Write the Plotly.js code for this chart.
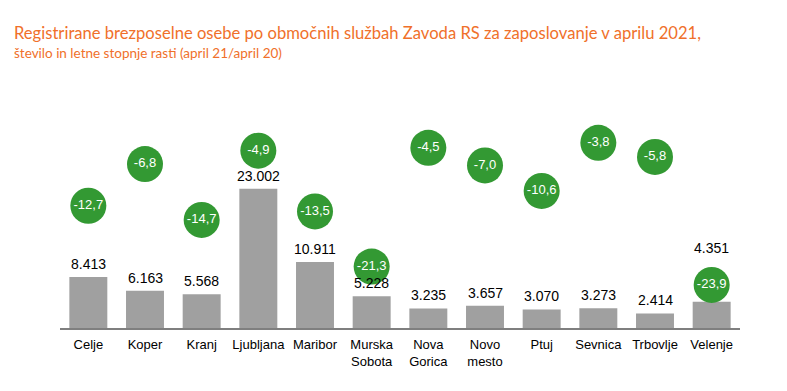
<!DOCTYPE html>
<html>
<head>
<meta charset="utf-8">
<script src="https://cdn.plot.ly/plotly-3.0.1.min.js"></script>
<style>html,body{margin:0;padding:0;background:#fff;}#chart{width:787px;height:391px;}</style>
</head>
<body>
<div id="chart"></div>
<script>
const categories = ["Celje", "Koper", "Kranj", "Ljubljana", "Maribor", "Murska<br>Sobota", "Nova<br>Gorica", "Novo<br>mesto", "Ptuj", "Sevnica", "Trbovlje", "Velenje"];
const unemployed = [8413, 6163, 5568, 23002, 10911, 5228, 3235, 3657, 3070, 3273, 2414, 4351];
const growth = [-12.7, -6.8, -14.7, -4.9, -13.5, -21.3, -4.5, -7.0, -10.6, -3.8, -5.8, -23.9];

const fmtInt = v => String(v).replace(/\B(?=(\d{3})+(?!\d))/g, ".");
const fmtDec = v => v.toFixed(1).replace(".", ",");

// extra upward shift for labels that would be covered by a circle
const labelExtraShift = {"Velenje": 41};

const bars = {
  type: "bar", x: categories, y: unemployed,
  marker: {color: "#A0A0A0"},
  hoverinfo: "skip", cliponaxis: false
};
const circles = {
  type: "scatter", mode: "markers+text", x: categories, y: growth, yaxis: "y2",
  marker: {color: "#339933", size: 36, line: {width: 0}},
  text: growth.map(fmtDec), textposition: "middle center",
  textfont: {family: "Liberation Sans, Arial, sans-serif", size: 13, color: "#ffffff"},
  hoverinfo: "skip", cliponaxis: false
};

const annotations = categories.map((c, i) => ({
  x: c, y: unemployed[i], xref: "x", yref: "y",
  text: fmtInt(unemployed[i]), showarrow: false,
  yanchor: "bottom", yshift: 3 + (labelExtraShift[c] || 0),
  font: {family: "Liberation Sans, Arial, sans-serif", size: 14, color: "#000"}
}));
annotations.push({
  xref: "paper", yref: "paper", x: (12 - 60) / 680, y: 1 + (115.8 - 33) / 212, xanchor: "left", yanchor: "middle",
  text: "Registrirane brezposelne osebe po območnih službah Zavoda RS za zaposlovanje v aprilu 2021,",
  showarrow: false, font: {family: "Lato, sans-serif", size: 16.6, color: "#F0702A"}
});
annotations.push({
  xref: "paper", yref: "paper", x: (12 - 60) / 680, y: 1 + (115.8 - 53) / 212, xanchor: "left", yanchor: "middle",
  text: "število in letne stopnje rasti (april 21/april 20)",
  showarrow: false, font: {family: "Lato, sans-serif", size: 13.5, color: "#F0702A"}
});

const layout = {
  width: 787, height: 391,
  margin: {l: 60, r: 47, t: 116, b: 63},
  paper_bgcolor: "#fff", plot_bgcolor: "#fff",
  showlegend: false, bargap: 0.33,
  xaxis: {
    type: "category", range: [-0.5, 11.5], showgrid: false, zeroline: false,
    showline: true, linecolor: "#7f7f7f", linewidth: 1.5, ticks: "",
    ticklabelstandoff: 4,
    tickfont: {family: "Liberation Sans, Arial, sans-serif", size: 13, color: "#000"},
    fixedrange: true
  },
  yaxis: {range: [0, 35000], visible: false, showgrid: false, zeroline: false, fixedrange: true},
  yaxis2: {range: [-30, 0], overlaying: "y", side: "right", visible: false, showgrid: false, zeroline: false, fixedrange: true},
  annotations: annotations
};

Plotly.newPlot("chart", [bars, circles], layout, {staticPlot: true, displayModeBar: false});
</script>
</body>
</html>
